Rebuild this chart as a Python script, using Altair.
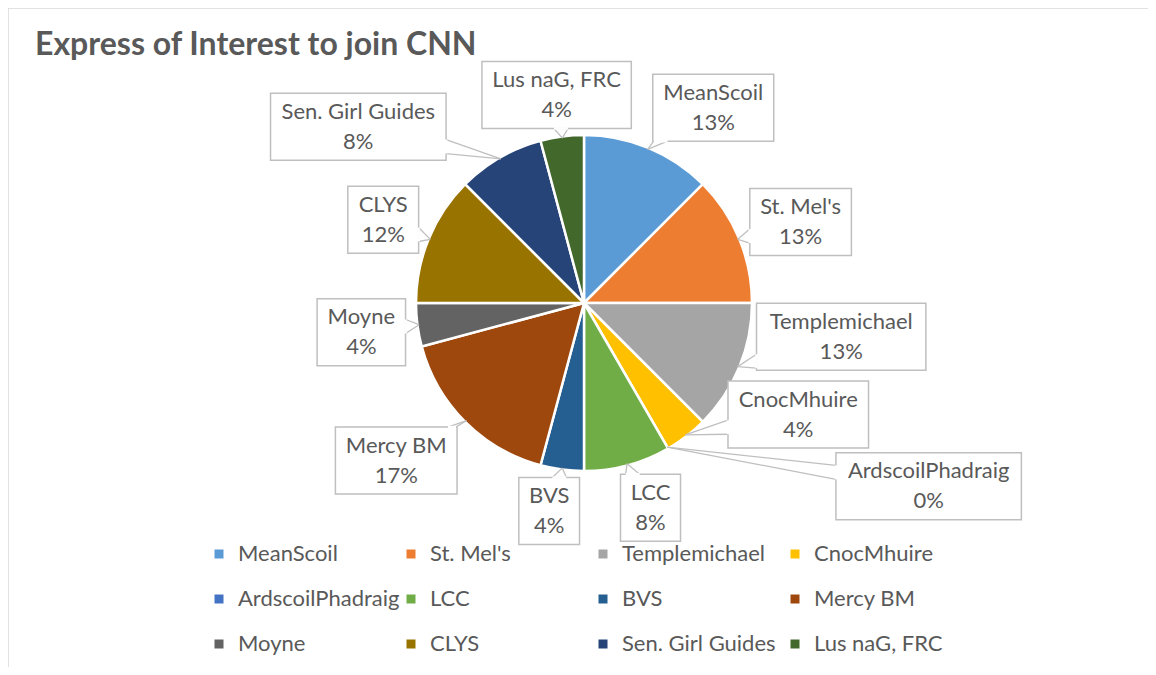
import math
import altair as alt
import pandas as pd

# ---------------- data ----------------
names = ["MeanScoil", "St. Mel's", "Templemichael", "CnocMhuire", "ArdscoilPhadraig",
         "LCC", "BVS", "Mercy BM", "Moyne", "CLYS", "Sen. Girl Guides", "Lus naG, FRC"]
counts = [3, 3, 3, 1, 0, 2, 1, 4, 1, 3, 2, 1]          # slice sizes
pct_labels = ["13%", "13%", "13%", "4%", "0%", "8%", "4%", "17%", "4%", "12%", "8%", "4%"]
colors = ["#5B9BD5", "#ED7D31", "#A5A5A5", "#FFC000", "#4472C4", "#70AD47",
          "#255E91", "#9E480E", "#636363", "#997300", "#264478", "#43682B"]
title_text = "Express of Interest to join CNN"

# ---------------- layout / style ----------------
W, H = 1140, 659            # whole drawing area (autosize none)
CX, CY, R = 576, 295, 168   # pie centre (px from top-left) and radius (px)
FONT, FS = "Lato", 22
TEXT = "#595959"
BOX_PAD, BOX_H, LINE_DY = 10, 67, 15
BORDER = "#BFBFBF"
# callout placement: (shift from slice mid-angle in degrees, gap from pie edge in px)
callout_layout = {
    "MeanScoil": (11, 26), "St. Mel's": (2, 9), "Templemichael": (-15, 6),
    "CnocMhuire": (-25, 1), "ArdscoilPhadraig": (-32, 151), "LCC": (-3, 12),
    "BVS": (2, 9), "Mercy BM": (5, 25), "Moyne": (0, 12), "CLYS": (0, 11),
    "Sen. Girl Guides": (-22, 64), "Lus naG, FRC": (0, 8),
}

CHAR_W = {
    'a': .51, 'b': .57, 'c': .47, 'd': .57, 'e': .54, 'f': .34, 'g': .52, 'h': .57, 'i': .25,
    'j': .25, 'k': .52, 'l': .25, 'm': .86, 'n': .57, 'o': .57, 'p': .57, 'q': .57, 'r': .38,
    's': .44, 't': .37, 'u': .57, 'v': .53, 'w': .79, 'x': .51, 'y': .53, 'z': .47,
    'A': .68, 'B': .64, 'C': .66, 'D': .74, 'E': .56, 'F': .54, 'G': .72, 'H': .76, 'I': .29,
    'J': .40, 'K': .66, 'L': .50, 'M': .90, 'N': .76, 'O': .80, 'P': .60, 'R': .63, 'S': .53,
    'T': .58, 'V': .68, 'Y': .62, '.': .22, ',': .22, "'": .20, ' ': .26, '%': .79,
}


def text_w(s):
    return sum(CHAR_W.get(ch, .58) for ch in s) * FS


# ---------------- derived geometry (pie units: radius = 1) ----------------
total = sum(counts)
pie_df = pd.DataFrame({"name": names, "count": counts, "idx": list(range(len(names))),
                       "cx": [0.0] * len(names), "cy": [0.0] * len(names)})

box_rows, wedge_rows, gap_rows = [], [], []
cum = 0
for n, c, p in zip(names, counts, pct_labels):
    mid = (cum + c / 2) / total * 360
    cum += c
    shift, gap = callout_layout[n]
    a = math.radians(mid + shift)
    hw = max(text_w(n), text_w(p)) / 2 + BOX_PAD
    hh = BOX_H / 2
    sx, sy = math.sin(a), math.cos(a)
    ext = min(hw / abs(sx) if abs(sx) > 1e-9 else 1e9, hh / abs(sy) if abs(sy) > 1e-9 else 1e9)
    d = R + gap + ext
    bx, by = d * sx, d * sy
    m = math.radians(mid)
    tx, ty = 0.99 * R * math.sin(m), 0.99 * R * math.cos(m)
    dx, dy = tx - bx, ty - by
    tH = hw / abs(dx) if abs(dx) > 1e-9 else 1e9
    tV = hh / abs(dy) if abs(dy) > 1e-9 else 1e9
    t = min(tH, tV)
    ex, ey = bx + t * dx, by + t * dy
    b = 7
    if tH < tV:
        p1 = (ex, max(ey - b, by - hh + 1))
        p2 = (ex, min(ey + b, by + hh - 1))
    else:
        p1 = (max(ex - b, bx - hw + 1), ey)
        p2 = (min(ex + b, bx + hw - 1), ey)
    box_rows.append({"name": n, "pct": p, "xc": bx / R, "yc": by / R,
                     "x1": (bx - hw) / R, "x2": (bx + hw) / R,
                     "y1": (by - hh) / R, "y2": (by + hh) / R})
    for q in (p1, p2):
        wedge_rows.append({"x": q[0] / R, "y": q[1] / R, "x2": tx / R, "y2": ty / R})
    gap_rows.append({"x": p1[0] / R, "y": p1[1] / R, "x2": p2[0] / R, "y2": p2[1] / R})

box_df = pd.DataFrame(box_rows)
wedge_df = pd.DataFrame(wedge_rows)
gap_df = pd.DataFrame(gap_rows)

xs = alt.Scale(domain=[-CX / R, (W - CX) / R], nice=False, zero=False)
ys = alt.Scale(domain=[-(H - CY) / R, CY / R], nice=False, zero=False)


def X(f):
    return alt.X(f, type="quantitative", scale=xs, axis=None)


def Y(f):
    return alt.Y(f, type="quantitative", scale=ys, axis=None)


arc = alt.Chart(pie_df).mark_arc(outerRadius=R, stroke="white", strokeWidth=2.5).encode(
    x=X("cx"), y=Y("cy"),
    theta=alt.Theta("count:Q", stack=True),
    order=alt.Order("idx:Q"),
    color=alt.Color("name:N", scale=alt.Scale(domain=names, range=colors),
                    legend=alt.Legend(title=None, orient="none", legendX=200, legendY=535,
                                      direction="horizontal", columns=4,
                                      symbolType="square", symbolSize=81,
                                      symbolStrokeWidth=0, labelFont=FONT, labelFontSize=FS,
                                      labelColor=TEXT, labelOffset=8, gridAlign="all",
                                      columnPadding=0, rowPadding=23, labelLimit=400,
                                      padding=0)),
)

wedges = alt.Chart(wedge_df).mark_rule(color=BORDER, strokeWidth=1.3).encode(
    x=X("x"), y=Y("y"), x2="x2", y2="y2")

boxes = alt.Chart(box_df).mark_rect(fill="white", stroke=BORDER, strokeWidth=1.5).encode(
    x=X("x1"), x2="x2", y=Y("y1"), y2="y2")

gaps = alt.Chart(gap_df).mark_rule(color="white", strokeWidth=2.5).encode(
    x=X("x"), y=Y("y"), x2="x2", y2="y2")

name_txt = alt.Chart(box_df).mark_text(font=FONT, fontSize=FS, color=TEXT,
                                        baseline="middle", align="center", dy=-LINE_DY).encode(
    x=X("xc"), y=Y("yc"), text="name:N")

pct_txt = alt.Chart(box_df).mark_text(font=FONT, fontSize=FS, color=TEXT,
                                       baseline="middle", align="center", dy=LINE_DY).encode(
    x=X("xc"), y=Y("yc"), text="pct:N")

title = alt.Chart(pd.DataFrame({"t": [title_text]})).mark_text(
    font=FONT, fontSize=32, fontWeight="bold", color=TEXT,
    align="left", baseline="alphabetic").encode(
    x=alt.value(27), y=alt.value(47), text="t:N")

frame_top = alt.Chart(pd.DataFrame({"k": [0]})).mark_rule(color="#D9D9D9", strokeWidth=1.5).encode(
    x=alt.value(0), x2=alt.value(W), y=alt.value(0))
frame_left = alt.Chart(pd.DataFrame({"k": [0]})).mark_rule(color="#D9D9D9", strokeWidth=1.5).encode(
    x=alt.value(0), y=alt.value(0), y2=alt.value(H))

chart = alt.layer(arc, wedges, boxes, gaps, name_txt, pct_txt, title, frame_top, frame_left).properties(
    width=W, height=H, autosize=alt.AutoSizeParams(type="none"), padding=0,
).configure_view(strokeWidth=0)

chart.save("out.html", embed_options={"renderer": "svg", "actions": False})
